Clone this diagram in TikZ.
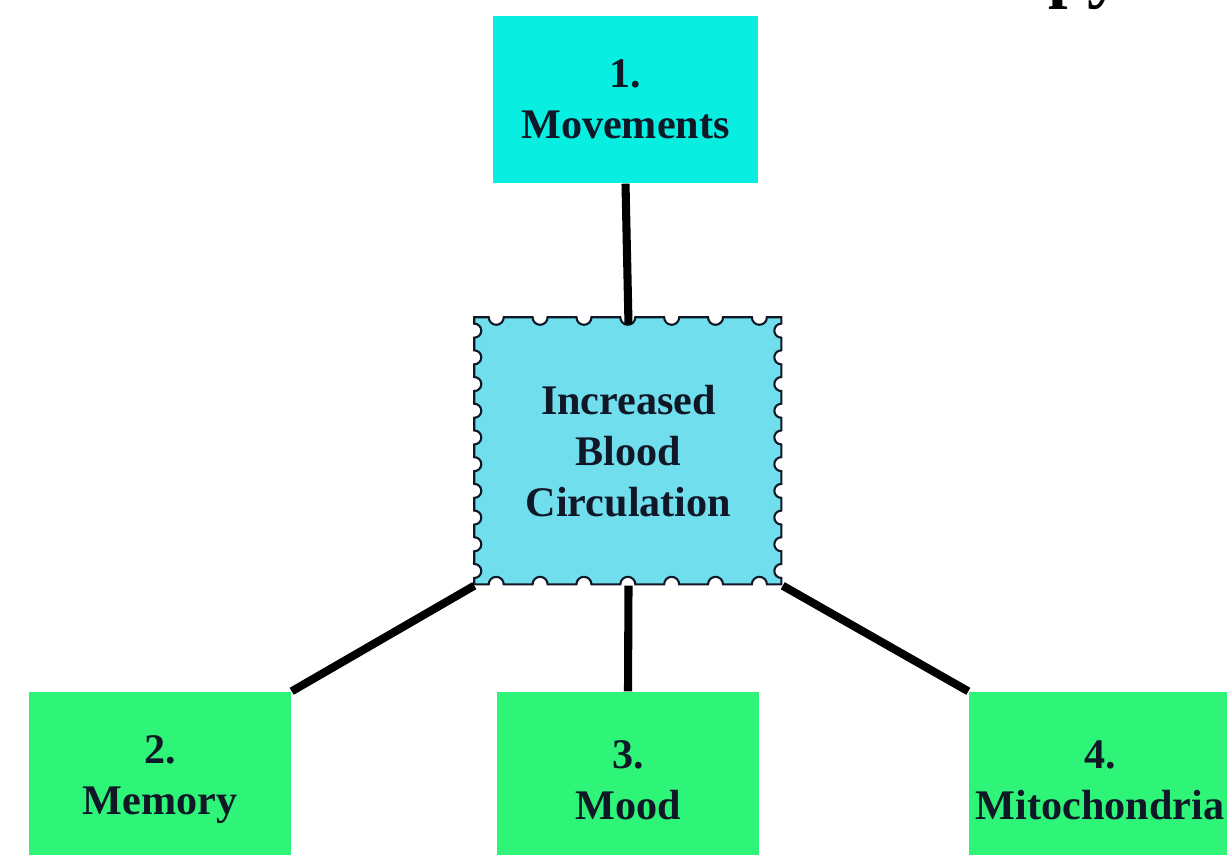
\documentclass[tikz,border=0pt]{standalone}
\usepackage{fontspec}
\setmainfont{Liberation Serif}
\usepackage{xcolor}
\usepackage{tikz}
\usetikzlibrary{backgrounds}

\definecolor{boxcyan}{HTML}{08EEE0}
\definecolor{stampblue}{HTML}{70DEEC}
\definecolor{boxgreen}{HTML}{2EF578}
\definecolor{labelink}{HTML}{101828}

\begin{document}
\begin{tikzpicture}[
		box/.style={rectangle, inner sep=0pt, align=center, text=labelink,
			font=\bfseries\fontsize{12}{14.5}\selectfont},
		topbox/.style={box, fill=boxcyan, minimum width=2.65cm, minimum height=1.67cm},
		leafbox/.style={box, fill=boxgreen, minimum width=2.62cm, minimum height=1.76cm},
		stamp/.style={box, minimum width=3.07cm, minimum height=2.67cm},
		edge/.style={line width=2.3pt, black},
		perf/.style={line width=0.6pt, draw=labelink, fill=stampblue}
	]
		\useasboundingbox (0,0) rectangle (12.27,-8.55);
		\clip (0,0) rectangle (12.27,-8.55);
		
		% Title (cut off at the top)
		\node[anchor=base west, inner sep=0pt, font=\bfseries\fontsize{20}{24}\selectfont] (title) at (10.48,0.05) {py};
		
		% Boxes
		\node[topbox] (move) at (6.255,-0.995) {1.\\Movements};
		\node[stamp] (circ) at (6.285,-4.515) {Increased\\Blood\\Circulation};
		\node[leafbox] (memory) at (1.60,-7.80) {2.\\Memory};
		\node[leafbox] (mood) at (6.28,-7.80) {3.\\Mood};
		\node[leafbox] (mito) at (11.00,-7.80) {4.\\Mitochondria};
		
		% Stamp border
		\begin{scope}[on background layer]
		\filldraw[perf] (circ.north west)
			foreach \i in {1,...,7} { -- ++(0.1443,0) arc[start angle=180, end angle=360, radius=0.075] -- ++(0.1443,0) }
			foreach \i in {1,...,10} { -- ++(0,-0.0635) arc[start angle=90, end angle=270, radius=0.07] -- ++(0,-0.0635) }
			foreach \i in {1,...,7} { -- ++(-0.1443,0) arc[start angle=0, end angle=180, radius=0.075] -- ++(-0.1443,0) }
			foreach \i in {1,...,10} { -- ++(0,0.0635) arc[start angle=270, end angle=450, radius=0.07] -- ++(0,0.0635) }
			-- cycle;
		\end{scope}
		
		% Connectors
		\draw[edge] (move.south) -- ([yshift=-0.07cm]circ.north);
		\draw[edge] (circ.south west) -- (memory.north east);
		\draw[edge] (circ.south) -- (mood.north);
		\draw[edge] (circ.south east) -- (mito.north west);
	\end{tikzpicture}
\end{document}
